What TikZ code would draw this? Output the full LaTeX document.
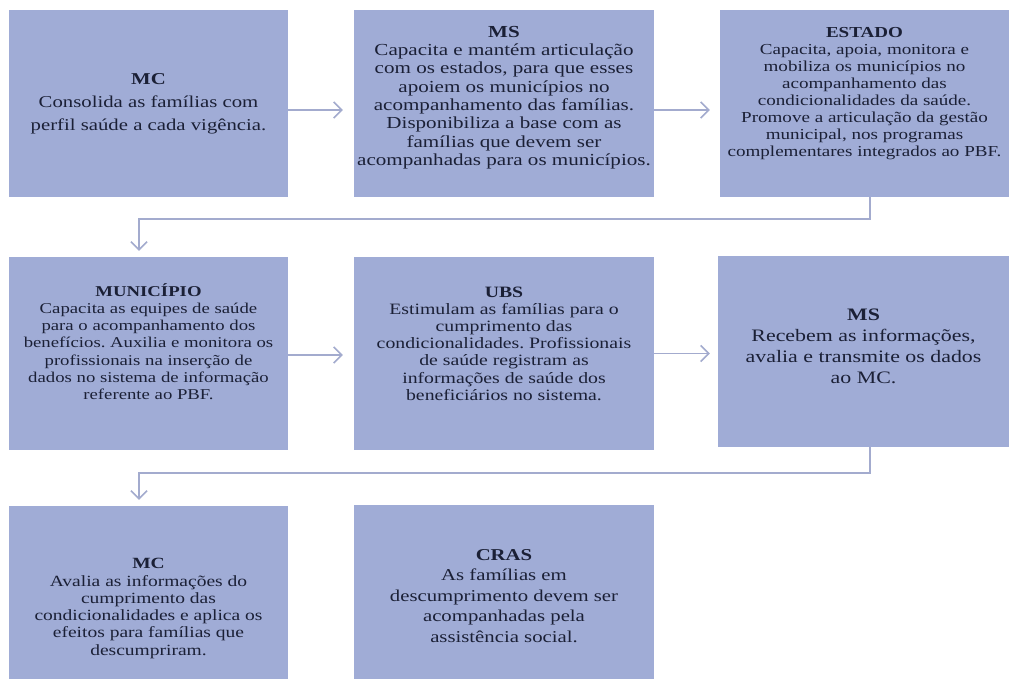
\documentclass[tikz,border=0pt]{standalone}
\usepackage{fontspec}
\setmainfont{Liberation Serif}[FakeStretch=1.25]
\usetikzlibrary{arrows.meta}
\definecolor{boxfill}{HTML}{A0ACD6}
\definecolor{txt}{HTML}{1B2036}
\definecolor{connc}{HTML}{A3ABCE}
\frenchspacing
\begin{document}
\begin{tikzpicture}[x=1pt,y=-1pt,
  box/.style={fill=boxfill, inner sep=0pt},
  lbl/.style={text=txt, align=center, inner sep=0pt},
  conn/.style={draw=connc, line width=1.6pt, -{Straight Barb[length=8pt,width=16pt,line width=1.6pt]}}]
\useasboundingbox (0,0) rectangle (1009,679);
\fill[white] (0,0) rectangle (1009,679);
% boxes
\node[box, minimum width=279pt, minimum height=187pt] (b1) at (148.5,103.5) {};
\node[box, minimum width=300pt, minimum height=187pt] (b2) at (504,103.5) {};
\node[box, minimum width=289pt, minimum height=187pt] (b3) at (864.5,103.5) {};
\node[box, minimum width=279pt, minimum height=193pt] (b4) at (148.5,353.5) {};
\node[box, minimum width=300pt, minimum height=193pt] (b5) at (504,353.5) {};
\node[box, minimum width=291pt, minimum height=191pt] (b6) at (863.5,351.5) {};
\node[box, minimum width=279pt, minimum height=173pt] (b7) at (148.5,592.5) {};
\node[box, minimum width=300pt, minimum height=174pt] (b8) at (504,592) {};
% texts
\node[lbl, font=\fontsize{16.6}{23}\selectfont] (t1) at ([yshift=0pt]b1.center)
 {\textbf{MC}\\Consolida as famílias com\\perfil saúde a cada vigência.};
\node[lbl, font=\fontsize{16.85}{18.3}\selectfont] (t2) at ([yshift=6pt]b2.center)
 {\textbf{MS}\\Capacita e mantém articulação\\com os estados, para que esses\\apoiem os municípios no\\acompanhamento das famílias.\\Disponibiliza a base com as\\famílias que devem ser\\acompanhadas para os municípios.};
\node[lbl, font=\fontsize{15.25}{17.1}\selectfont] (t3) at ([yshift=10pt]b3.center)
 {\textbf{ESTADO}\\Capacita, apoia, monitora e\\mobiliza os municípios no\\acompanhamento das\\condicionalidades da saúde.\\Promove a articulação da gestão\\municipal, nos programas\\complementares integrados ao PBF.};
\node[lbl, font=\fontsize{15}{17.2}\selectfont] (t4) at ([yshift=12pt]b4.center)
 {\textbf{MUNICÍPIO}\\Capacita as equipes de saúde\\para o acompanhamento dos\\benefícios. Auxilia e monitora os\\profissionais na inserção de\\dados no sistema de informação\\referente ao PBF.};
\node[lbl, font=\fontsize{15.8}{17.2}\selectfont] (t5) at ([yshift=10pt]b5.center)
 {\textbf{UBS}\\Estimulam as famílias para o\\cumprimento das\\condicionalidades. Profissionais\\de saúde registram as\\informações de saúde dos\\beneficiários no sistema.};
\node[lbl, font=\fontsize{17.5}{21}\selectfont] (t6) at ([yshift=5pt]b6.center)
 {\textbf{MS}\\Recebem as informações,\\avalia e transmite os dados\\ao MC.};
\node[lbl, font=\fontsize{15.6}{17.3}\selectfont] (t7) at ([yshift=-16pt]b7.center)
 {\textbf{MC}\\Avalia as informações do\\cumprimento das\\condicionalidades e aplica os\\efeitos para famílias que\\descumpriram.};
\node[lbl, font=\fontsize{16.6}{20.5}\selectfont] (t8) at ([yshift=-4pt]b8.center)
 {\textbf{CRAS}\\As famílias em\\descumprimento devem ser\\acompanhadas pela\\assistência social.};
% connectors
\draw[conn, shorten >=11pt] ([yshift=-6.5pt]b1.east) -- ([yshift=-6.5pt]b2.west);
\draw[conn, shorten >=10pt] ([yshift=-6.5pt]b2.east) -- ([yshift=-6.5pt]b3.west);
\draw[conn, shorten >=6pt] ([xshift=5.5pt]b3.south) -- ++(0,22) -| ([xshift=-9.5pt]b4.north);
\draw[conn, shorten >=11pt] ([yshift=-1.5pt]b4.east) -- ([yshift=-1.5pt]b5.west);
\draw[conn, shorten >=8pt] (b5.east) -- (b5.east -| b6.west);
\draw[conn, shorten >=6pt] ([xshift=6.5pt]b6.south) -- ++(0,26) -| ([xshift=-9.5pt]b7.north);
\end{tikzpicture}
\end{document}
